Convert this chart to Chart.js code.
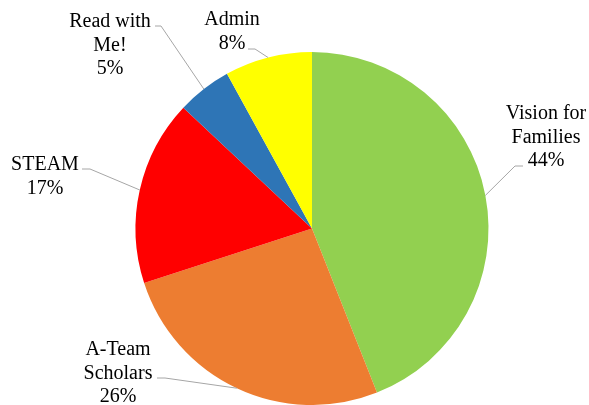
<!DOCTYPE html>
<html>
<head>
<meta charset="utf-8">
<script src="https://cdn.jsdelivr.net/npm/chart.js@4"></script>
<style>
  html, body { margin: 0; padding: 0; background: #fff; }
  #wrap { width: 589px; height: 405px; }
</style>
</head>
<body>
<div id="wrap"><canvas id="chart"></canvas></div>
<script>
const categories = ['Vision for Families', 'A-Team Scholars', 'STEAM', 'Read with Me!', 'Admin'];
const shares = [44, 26, 17, 5, 8];
const nameLines = [['Vision for', 'Families'], ['A-Team', 'Scholars'], ['STEAM'], ['Read with', 'Me!'], ['Admin']];
const colors = ['#92D050', '#ED7D31', '#FF0000', '#2E75B6', '#FFFF00'];

// where each label sits: text centre x, first baseline y, leader start (next to text), elbow
const labelLayout = [
    { x: 546, y: 119, from: [523, 166], elbow: [515, 166] },
    { x: 118, y: 355, from: [157, 378], elbow: [165, 378] },
    { x: 45,  y: 170, from: [82, 169],  elbow: [90, 169] },
    { x: 110, y: 27,  from: [155, 26],  elbow: [161, 26] },
    { x: 232, y: 25,  from: [248, 49],  elbow: [255, 49] }
];

const labelPlugin = {
    id: 'sliceLabels',
    afterDraw(chart) {
        const ctx = chart.ctx;
        const arcs = chart.getDatasetMeta(0).data;
        ctx.save();
        arcs.forEach((arc, i) => {
            const lay = labelLayout[i];
            const mid = (arc.startAngle + arc.endAngle) / 2;
            const ex = arc.x + Math.cos(mid) * arc.outerRadius;
            const ey = arc.y + Math.sin(mid) * arc.outerRadius;

            // leader line: text -> elbow -> middle of the slice edge
            ctx.strokeStyle = '#A6A6A6';
            ctx.lineWidth = 1;
            ctx.beginPath();
            ctx.moveTo(lay.from[0], lay.from[1]);
            ctx.lineTo(lay.elbow[0], lay.elbow[1]);
            ctx.lineTo(ex, ey);
            ctx.stroke();

            const lines = nameLines[i].concat([shares[i] + '%']);
            ctx.fillStyle = '#000';
            ctx.font = '20px "Liberation Serif", serif';
            ctx.textAlign = 'center';
            lines.forEach((t, j) => ctx.fillText(t, lay.x, lay.y + j * 23.5));
        });
        ctx.restore();
    }
};

new Chart(document.getElementById('chart'), {
    type: 'pie',
    data: {
        labels: categories,
        datasets: [{
            data: shares,
            backgroundColor: colors,
            borderWidth: 0
        }]
    },
    options: {
        responsive: true,
        maintainAspectRatio: false,
        animation: false,
        layout: { padding: { top: 52, bottom: 0, left: 35, right: 0 } },
        plugins: {
            legend: { display: false },
            tooltip: { enabled: false }
        }
    },
    plugins: [labelPlugin]
});
</script>
</body>
</html>
